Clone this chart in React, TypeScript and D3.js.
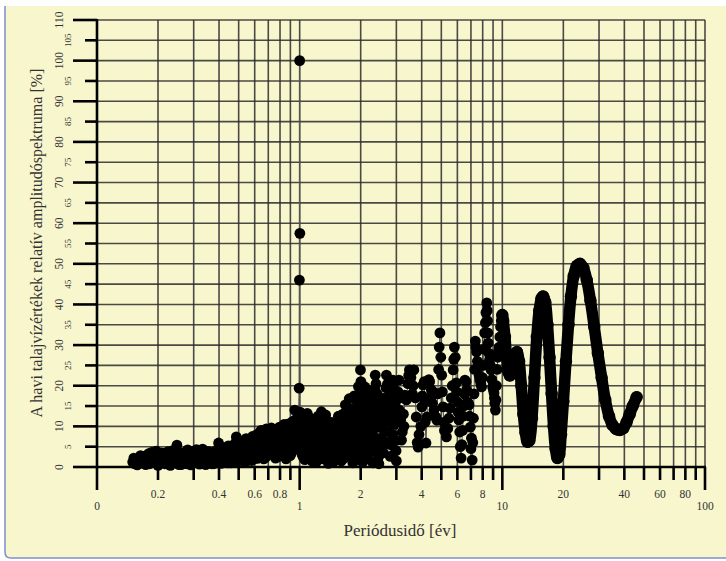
import React from 'react';
import * as d3 from 'd3';

const W = 726;
const H = 561;

// [periódusidő (év), relatív amplitúdó (%)]
const shortPeriods: [number, number][] = [
  [0.150, 1.2], [0.153, 0.8], [0.156, 1.6], [0.159, 1.0], [0.162, 2.0], [0.165, 1.3], [0.168, 2.6],
  [0.171, 1.8], [0.174, 0.6], [0.177, 2.9], [0.180, 3.3], [0.183, 1.9], [0.186, 3.6], [0.189, 1.1],
  [0.192, 2.8], [0.196, 3.9], [0.200, 0.4], [0.204, 2.2], [0.208, 3.5], [0.212, 1.5], [0.216, 0.8],
  [0.220, 2.9], [0.224, 3.8], [0.228, 1.2], [0.232, 2.5], [0.236, 4.0], [0.240, 1.0], [0.244, 3.0],
  [0.248, 5.4], [0.252, 3.6], [0.256, 1.9], [0.260, 0.6], [0.264, 2.4], [0.268, 3.2], [0.272, 0.9],
  [0.276, 2.0], [0.280, 4.2], [0.285, 1.5], [0.290, 0.5], [0.295, 2.7], [0.300, 3.9],
  [0.305, 1.2], [0.310, 4.3], [0.315, 2.0], [0.320, 0.7], [0.326, 3.1], [0.332, 4.4], [0.338, 1.8],
  [0.344, 0.6], [0.350, 2.9], [0.356, 3.8], [0.362, 1.4], [0.368, 0.8], [0.374, 3.3], [0.380, 2.2],
  [0.386, 4.0], [0.392, 1.0], [0.398, 5.9], [0.404, 2.6], [0.410, 0.9], [0.417, 3.6], [0.424, 4.7],
  [0.431, 1.6], [0.438, 3.0], [0.445, 5.2], [0.452, 2.1], [0.459, 1.0], [0.466, 4.1], [0.473, 3.3],
  [0.480, 5.8], [0.487, 7.4], [0.494, 6.5], [0.500, 3.0],
  [0.152, 2.2], [0.158, 0.5], [0.164, 2.8], [0.170, 0.9], [0.176, 1.6], [0.182, 0.8], [0.188, 2.2],
  [0.194, 1.0], [0.198, 2.0], [0.206, 1.0], [0.214, 3.0], [0.222, 1.5], [0.230, 0.4], [0.238, 2.0],
  [0.246, 1.0], [0.254, 0.6], [0.262, 3.5], [0.270, 1.8], [0.278, 0.8], [0.288, 3.2], [0.298, 1.0],
  [0.308, 2.6], [0.318, 3.5], [0.328, 1.0], [0.340, 3.0], [0.352, 1.5], [0.365, 2.5], [0.377, 0.8],
  [0.389, 2.6], [0.401, 3.8], [0.414, 1.8], [0.428, 2.5], [0.442, 1.0], [0.456, 3.5], [0.470, 1.8],
  [0.484, 3.0], [0.497, 1.5],
];

const subAnnual: [number, number][] = [
  [0.508, 4.8], [0.516, 2.2], [0.524, 5.6], [0.532, 3.4], [0.540, 1.2], [0.548, 4.2], [0.556, 6.0],
  [0.564, 2.8], [0.572, 5.1], [0.580, 1.6], [0.590, 3.9], [0.600, 6.6], [0.610, 4.0], [0.620, 2.1],
  [0.630, 7.8], [0.640, 5.2], [0.650, 3.0], [0.660, 8.3], [0.670, 6.1], [0.680, 2.4], [0.690, 4.9],
  [0.700, 7.2], [0.710, 8.9], [0.720, 5.0], [0.730, 3.1], [0.742, 6.8], [0.754, 9.0], [0.766, 4.3],
  [0.778, 2.5], [0.790, 7.0], [0.802, 5.5], [0.814, 3.0], [0.826, 8.2], [0.838, 10.5], [0.850, 6.4],
  [0.862, 4.0], [0.874, 9.1], [0.886, 7.0], [0.898, 2.8], [0.910, 6.2], [0.922, 11.2], [0.934, 8.0],
  [0.946, 14.0], [0.958, 9.6], [0.970, 12.0], [0.982, 7.5],
  [0.504, 2.0], [0.512, 6.2], [0.520, 3.8], [0.528, 1.5], [0.536, 5.0], [0.544, 7.0], [0.552, 2.5],
  [0.560, 4.5], [0.568, 6.8], [0.576, 3.5], [0.585, 7.5], [0.595, 2.0], [0.605, 5.5], [0.615, 8.0],
  [0.625, 3.8], [0.635, 6.0], [0.645, 9.0], [0.655, 4.6], [0.665, 2.0], [0.675, 7.6], [0.685, 9.4],
  [0.695, 5.8], [0.705, 3.2], [0.715, 6.5], [0.725, 9.6], [0.736, 4.0], [0.748, 7.8], [0.760, 2.2],
  [0.772, 8.4], [0.784, 5.6], [0.796, 9.8], [0.808, 3.8], [0.820, 6.0], [0.832, 4.4], [0.844, 8.8],
  [0.856, 2.0], [0.868, 7.0], [0.880, 10.6], [0.892, 5.0], [0.904, 8.6], [0.916, 3.6], [0.928, 10.0],
  [0.940, 6.6], [0.952, 11.5], [0.964, 5.0], [0.976, 9.0], [0.988, 13.0],
];

const annualPeak: [number, number][] = [
  [0.994, 19.4], [0.997, 46.0], [1.000, 100.0], [1.002, 57.5], [1.005, 13.5],
];

const oneToThree: [number, number][] = [
  [1.012, 6.0], [1.020, 10.2], [1.028, 3.1], [1.036, 8.4], [1.044, 12.0], [1.052, 5.2], [1.060, 1.8],
  [1.070, 7.3], [1.080, 11.3], [1.090, 13.2], [1.100, 6.1], [1.110, 2.4], [1.120, 8.8], [1.130, 4.3],
  [1.140, 10.8], [1.150, 1.5], [1.160, 6.6], [1.172, 3.0], [1.184, 9.5], [1.196, 5.1], [1.208, 1.2],
  [1.220, 7.6], [1.232, 12.5], [1.244, 9.0], [1.256, 3.6], [1.268, 11.0], [1.280, 13.6], [1.292, 6.8],
  [1.304, 2.0], [1.316, 8.2], [1.330, 4.5], [1.344, 12.8], [1.358, 10.1], [1.372, 3.3], [1.386, 0.9],
  [1.400, 6.0], [1.414, 9.7], [1.428, 2.6], [1.442, 7.1], [1.456, 4.0], [1.470, 1.3], [1.485, 8.6],
  [1.500, 5.5], [1.515, 2.2], [1.530, 10.4], [1.545, 7.3], [1.560, 3.4], [1.575, 11.6], [1.590, 6.2],
  [1.605, 1.5], [1.620, 9.0], [1.635, 13.0], [1.650, 4.8], [1.665, 8.1], [1.680, 15.3], [1.695, 10.5],
  [1.710, 2.9], [1.725, 6.4], [1.740, 12.2], [1.755, 16.8], [1.770, 9.1], [1.785, 3.8], [1.800, 14.0],
  [1.815, 7.6], [1.830, 1.0], [1.845, 11.4], [1.860, 17.5], [1.875, 5.0], [1.890, 9.9], [1.905, 14.8],
  [1.920, 2.3], [1.935, 8.0], [1.950, 19.8], [1.965, 12.3], [1.980, 4.1], [1.995, 23.9], [2.005, 21.0],
  [2.015, 16.2], [2.025, 11.0], [2.035, 5.5], [2.045, 1.2],
  [2.06, 8.0], [2.08, 14.3], [2.10, 19.7], [2.12, 17.5], [2.14, 12.0], [2.16, 6.5], [2.18, 2.0],
  [2.20, 9.0], [2.22, 15.6], [2.24, 18.8], [2.26, 13.5], [2.28, 7.4], [2.30, 1.0], [2.32, 10.6],
  [2.34, 16.0], [2.36, 22.6], [2.38, 20.5], [2.40, 15.4], [2.42, 9.8], [2.44, 4.5], [2.46, 0.8],
  [2.48, 7.0], [2.50, 12.4], [2.53, 17.0], [2.56, 10.2], [2.59, 3.5], [2.62, 9.0], [2.65, 16.5],
  [2.68, 22.6], [2.71, 20.4], [2.74, 15.0], [2.77, 8.6], [2.80, 2.6], [2.83, 11.0], [2.86, 17.8],
  [2.89, 21.4], [2.92, 18.5], [2.95, 13.0], [2.98, 6.5], [3.00, 1.5],
  [1.008, 9.0], [1.016, 4.0], [1.024, 12.5], [1.032, 6.0], [1.040, 2.5], [1.048, 9.5], [1.056, 7.0],
  [1.065, 4.5], [1.075, 9.8], [1.085, 3.0], [1.095, 10.0], [1.105, 8.5], [1.115, 5.0], [1.125, 12.0],
  [1.135, 7.0], [1.145, 3.5], [1.155, 9.0], [1.166, 11.5], [1.178, 6.5], [1.190, 2.0], [1.202, 8.0],
  [1.214, 10.5], [1.226, 4.0], [1.238, 6.2], [1.250, 10.8], [1.262, 7.0], [1.274, 4.5], [1.286, 9.5],
  [1.298, 11.5], [1.310, 5.0], [1.323, 10.0], [1.337, 7.5], [1.351, 3.0], [1.365, 8.8], [1.379, 11.2],
  [1.393, 4.6], [1.407, 2.2], [1.421, 7.8], [1.435, 11.0], [1.449, 5.5], [1.463, 9.2], [1.478, 3.0],
  [1.492, 6.8], [1.507, 11.0], [1.522, 8.0], [1.537, 4.8], [1.552, 12.5], [1.567, 9.0], [1.582, 2.5],
  [1.597, 7.5], [1.612, 11.0], [1.627, 5.0], [1.642, 10.5], [1.657, 2.2], [1.672, 12.0], [1.687, 6.5],
  [1.702, 13.5], [1.717, 9.0], [1.732, 4.5], [1.747, 14.5], [1.762, 11.0], [1.777, 6.0], [1.792, 10.5],
  [1.807, 3.0], [1.822, 12.5], [1.837, 8.5], [1.852, 4.0], [1.867, 13.0], [1.882, 7.0], [1.897, 2.0],
  [1.912, 11.5], [1.927, 16.0], [1.942, 6.0], [1.957, 14.0], [1.972, 9.0], [1.988, 18.0],
  [2.050, 4.5], [2.070, 11.0], [2.090, 16.5], [2.110, 9.5], [2.130, 3.0], [2.150, 14.0], [2.170, 8.5],
  [2.190, 5.0], [2.210, 12.0], [2.230, 17.0], [2.250, 10.0], [2.270, 4.0], [2.290, 8.0], [2.310, 5.5],
  [2.330, 13.5], [2.350, 19.0], [2.370, 12.5], [2.390, 6.5], [2.410, 18.0], [2.430, 12.5], [2.450, 2.5],
  [2.470, 10.0], [2.490, 5.0], [2.515, 14.5], [2.545, 7.0], [2.575, 12.0], [2.605, 5.5], [2.635, 13.0],
  [2.665, 19.5], [2.695, 11.5], [2.725, 6.0], [2.755, 17.5], [2.785, 12.0], [2.815, 5.5], [2.845, 14.5],
  [2.875, 8.0], [2.905, 19.5], [2.935, 10.5], [2.965, 16.0], [2.990, 4.0],
];

const threeToTen: [number, number][] = [
  [3.03, 12.0], [3.06, 18.5], [3.09, 21.4], [3.12, 17.0], [3.15, 11.5], [3.18, 6.6], [3.21, 8.6],
  [3.25, 13.0], [3.30, 17.7], [3.36, 16.5], [3.42, 20.5], [3.48, 23.9], [3.54, 22.0], [3.60, 18.0],
  [3.66, 23.9], [3.72, 17.0], [3.76, 12.3], [3.80, 6.0], [3.84, 4.9], [3.90, 5.5], [3.96, 10.0],
  [4.01, 14.8], [4.06, 20.2], [4.12, 21.0], [4.16, 11.0], [4.20, 5.9], [4.25, 12.3], [4.30, 20.7],
  [4.38, 21.0], [4.46, 19.0], [4.52, 15.7], [4.60, 14.0], [4.70, 12.3], [4.80, 18.0], [4.88, 29.5],
  [4.92, 33.0], [4.97, 27.0], [5.02, 22.6], [5.10, 14.8], [5.18, 9.0], [5.30, 7.4], [5.45, 12.0],
  [5.60, 17.0], [5.72, 23.9], [5.80, 29.5], [5.86, 27.0], [5.92, 20.7], [6.00, 16.0], [6.10, 11.6],
  [6.16, 8.6], [6.26, 2.2], [6.36, 9.0], [6.46, 15.0], [6.54, 21.4], [6.62, 21.0], [6.70, 16.0],
  [6.85, 15.3], [6.95, 9.8], [7.04, 7.1], [7.10, 1.7], [7.20, 12.0], [7.30, 24.0], [7.36, 31.0],
  [7.46, 28.3], [7.60, 24.6], [7.75, 21.4], [7.90, 19.7], [8.05, 25.0], [8.18, 33.0], [8.30, 38.0],
  [8.38, 40.4], [8.45, 36.0], [8.52, 30.5], [8.64, 26.3], [8.80, 23.9], [8.95, 19.7], [9.10, 18.2],
  [9.18, 15.7], [9.24, 14.0], [9.35, 20.0], [9.50, 27.0], [9.65, 29.5], [9.80, 34.5], [9.95, 37.0],
  [3.10, 14.0], [3.27, 10.0], [3.45, 22.5], [3.63, 20.0], [3.88, 8.0], [4.03, 17.5], [4.14, 16.0],
  [4.34, 21.5], [4.42, 17.0], [4.56, 18.5], [4.75, 11.5], [4.85, 24.0], [5.06, 18.5], [5.14, 11.0],
  [5.38, 9.5], [5.52, 14.5], [5.66, 20.0], [5.76, 26.5], [5.96, 18.5], [6.05, 13.5], [6.20, 5.0],
  [6.31, 5.5], [6.42, 12.5], [6.50, 18.0], [6.66, 19.0], [6.78, 15.8], [6.90, 12.5], [7.00, 4.5],
  [7.15, 6.0], [7.25, 18.0], [7.40, 29.5], [7.53, 26.0], [7.68, 22.5], [7.83, 20.5], [7.98, 22.0],
  [8.12, 29.0], [8.25, 35.5], [8.42, 38.5], [8.48, 33.0], [8.58, 28.0], [8.72, 25.0], [8.88, 21.5],
  [9.03, 19.0], [9.14, 17.0], [9.30, 16.5], [9.42, 24.0], [9.58, 28.5], [9.72, 32.0], [9.88, 36.0],
];

const longPeriods: [number, number][] = [
  [10.0, 37.4], [10.1, 36.0], [10.3, 32.0], [10.5, 27.0], [10.7, 23.5], [10.9, 22.5], [11.2, 24.5],
  [11.5, 27.5], [11.8, 28.3], [12.1, 26.0], [12.4, 20.0], [12.7, 13.0], [13.0, 8.5], [13.3, 6.2],
  [13.6, 6.5], [14.0, 12.0], [14.4, 22.0], [14.8, 32.0], [15.2, 38.5], [15.6, 41.5], [15.9, 42.0],
  [16.3, 40.5], [16.7, 35.0], [17.1, 27.0], [17.5, 18.0], [17.9, 10.0], [18.3, 4.5], [18.7, 2.2],
  [19.1, 3.0], [19.5, 8.0], [20.0, 16.0], [20.6, 26.0], [21.2, 35.0], [21.8, 42.0], [22.5, 47.0],
  [23.3, 49.5], [24.2, 50.0], [25.1, 49.0], [26.1, 46.0], [27.2, 41.0], [28.4, 34.5], [29.6, 28.0],
  [30.9, 22.0], [32.2, 16.5], [33.6, 12.5], [35.0, 10.3], [36.5, 9.3], [38.0, 9.1], [39.5, 9.5],
  [41.0, 11.0], [42.5, 13.0], [44.0, 15.0], [46.0, 17.2],
];

const xMajorLabels: [number, string][] = [[0.1, '0'], [1, '1'], [10, '10'], [100, '100']];
const xMinorLabels: number[] = [0.2, 0.4, 0.6, 0.8, 2, 4, 6, 8, 20, 40, 60, 80];

const xTitle = 'Periódusidő [év]';
const yTitle = 'A havi talajvízértékek relatív amplitudóspektruma [%]';

const BG = '#f8f6cd';
const FONT = '"Liberation Serif", "Times New Roman", serif';

export default function App() {
  const x = d3.scaleLog().domain([0.1, 100]).range([97, 705]);
  const y = d3.scaleLinear().domain([0, 110]).range([467, 20]);

  const xGrid = x.ticks().filter(v => v > 0.1 + 1e-9);
  const yGrid = d3.range(0, 111, 5);

  const scatter = d3.sort(
    [...shortPeriods, ...subAnnual, ...annualPeak, ...oneToThree, ...threeToTen],
    d => d[0]
  );
  const all = [...scatter, ...longPeriods];

  const thin = d3.line<[number, number]>().x(d => x(d[0])).y(d => y(d[1]));
  const thick = d3
    .line<[number, number]>()
    .x(d => x(d[0]))
    .y(d => y(d[1]))
    .curve(d3.curveCatmullRom);

  const isMajorX = (v: number) => Math.abs(Math.log10(v) - Math.round(Math.log10(v))) < 1e-6;

  return (
    <svg width={W} height={H} style={{ position: 'absolute', left: 0, top: 0, background: '#fff' }}>
      <rect x={5} y={6} width={W} height={552} fill={BG} />
      <path d="M5,6 V552 Q5,558 11,558 H726" fill="none" stroke="#7f8fd0" strokeWidth={1.5} />

      {/* rács */}
      <g stroke="#2b2b2b" strokeWidth={1.6} strokeOpacity={0.85}>
        {yGrid.map(v => (
          <line key={'gy' + v} x1={97} x2={705} y1={y(v)} y2={y(v)} />
        ))}
        {xGrid.map(v => (
          <line key={'gx' + v} x1={x(v)} x2={x(v)} y1={20} y2={467} />
        ))}
      </g>

      {/* tengelyek és osztások */}
      <g stroke="#000" strokeWidth={2.6}>
        {yGrid.map(v => (
          <line key={'ty' + v} x1={v % 10 === 0 ? 73 : 85} x2={97} y1={y(v)} y2={y(v)} />
        ))}
        {xGrid.map(v => (
          <line key={'tx' + v} x1={x(v)} x2={x(v)} y1={467} y2={isMajorX(v) ? 490 : 480} />
        ))}
        <line x1={97} x2={97} y1={19} y2={490} />
        <line x1={96} x2={706} y1={467} y2={467} />
      </g>

      {/* y feliratok */}
      <g fontFamily={FONT} fill="#333" textAnchor="middle">
        {yGrid.map(v => {
          const major = v % 10 === 0;
          const bx = major ? 63 : 71;
          return (
            <text
              key={'ly' + v}
              transform={`translate(${bx},${y(v)}) rotate(-90)`}
              fontSize={major ? 11.5 : 9}
            >
              {v}
            </text>
          );
        })}
      </g>

      {/* x feliratok */}
      <g fontFamily={FONT} fill="#333" textAnchor="middle" fontSize={11.5}>
        {xMinorLabels.map(v => (
          <text key={'lx' + v} x={x(v)} y={498}>
            {String(v)}
          </text>
        ))}
        {xMajorLabels.map(([v, t]) => (
          <text key={'lX' + v} x={x(v)} y={510}>
            {t}
          </text>
        ))}
      </g>

      {/* adatok */}
      <path d={thin(all) ?? ''} fill="none" stroke="#555" strokeWidth={1} />
      <path
        d={thick(longPeriods) ?? ''}
        fill="none"
        stroke="#000"
        strokeWidth={11.5}
        strokeLinecap="round"
        strokeLinejoin="round"
      />
      <g fill="#000">
        {scatter.map((d, i) => (
          <circle key={'p' + i} cx={x(d[0])} cy={y(d[1])} r={5.4} />
        ))}
        {longPeriods.map((d, i) => (
          <circle key={'c' + i} cx={x(d[0])} cy={y(d[1])} r={6.2} />
        ))}
      </g>

      {/* címek */}
      <text x={400} y={536} textAnchor="middle" fontFamily={FONT} fontSize={17} fill="#333">
        {xTitle}
      </text>
      <text
        transform="translate(42,243) rotate(-90)"
        textAnchor="middle"
        fontFamily={FONT}
        fontSize={16}
        fill="#333"
      >
        {yTitle}
      </text>
    </svg>
  );
}
